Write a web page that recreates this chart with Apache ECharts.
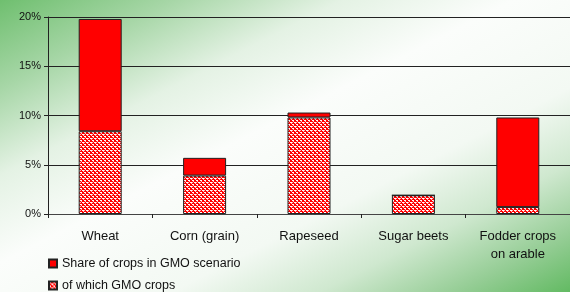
<!DOCTYPE html>
<html>
<head>
<meta charset="utf-8">
<script src="https://cdn.jsdelivr.net/npm/echarts@6/dist/echarts.min.js"></script>
<style>
  html, body { margin: 0; padding: 0; }
  #chart { width: 570px; height: 292px; }
</style>
</head>
<body>
<div id="chart"></div>
<script>
const categories = ["Wheat", "Corn (grain)", "Rapeseed", "Sugar beets", "Fodder crops\non arable"];
// total share of each crop in the GMO scenario (%)
const shareValues = [19.8, 5.7, 10.3, 1.9, 9.8];
// part of that share that is GMO crops (%)
const gmoValues = [8.4, 3.9, 9.8, 1.9, 0.7];
const yTicks = [0, 5, 10, 15, 20];

// dithered red/white hatch like the original
function makeHatch() {
  const c = document.createElement("canvas");
  c.width = 4;
  c.height = 4;
  const ctx = c.getContext("2d");
  ctx.fillStyle = "#ff0000";
  ctx.fillRect(0, 0, 4, 4);
  ctx.fillStyle = "#ffffff";
  ctx.fillRect(0, 0, 2, 1);
  ctx.fillRect(2, 2, 2, 1);
  ctx.fillStyle = "#ffb4b4";
  ctx.fillRect(1, 1, 1, 1);
  ctx.fillRect(3, 3, 1, 1);
  ctx.fillRect(0, 2, 1, 1);
  return c;
}

const chart = echarts.init(document.getElementById("chart"));
const hatch = { image: makeHatch(), repeat: "repeat" };
const font = "Liberation Sans, Arial, sans-serif";

const legendBase = {
  left: 48,
  padding: 0,
  itemWidth: 8,
  itemHeight: 8,
  itemGap: 0,
  icon: "rect",
  selectedMode: false,
  textStyle: { fontSize: 12.5, color: "#111" }
};

const option = {
  animation: false,
  backgroundColor: {
    type: "linear",
    global: true,
    x: 0, y: 0, x2: 237, y2: 463,
    colorStops: [
      { offset: 0, color: "#6fbf6f" },
      { offset: 0.15, color: "#a6d6a6" },
      { offset: 0.3, color: "#e4f2e4" },
      { offset: 0.45, color: "#fbfdfb" },
      { offset: 0.65, color: "#f3f9f3" },
      { offset: 0.78, color: "#cfe8cf" },
      { offset: 0.9, color: "#95cd95" },
      { offset: 1, color: "#62ba62" }
    ]
  },
  textStyle: { fontFamily: font },
  grid: { left: 48, top: 17, width: 530, height: 197 },
  legend: [
    Object.assign({}, legendBase, { top: 257, data: ["Share of crops in GMO scenario"] }),
    Object.assign({}, legendBase, { top: 279, data: ["of which GMO crops"] })
  ],
  xAxis: {
    type: "category",
    data: categories,
    axisLine: { lineStyle: { color: "#444", width: 1 } },
    axisTick: { show: true, length: 4, lineStyle: { color: "#222" } },
    axisLabel: { interval: 0, margin: 14, fontSize: 13, color: "#111", lineHeight: 17.5 }
  },
  yAxis: {
    type: "value",
    min: yTicks[0],
    max: yTicks[yTicks.length - 1],
    interval: 5,
    axisLine: { show: true, lineStyle: { color: "#222" } },
    axisTick: { show: true, length: 4, lineStyle: { color: "#222" } },
    axisLabel: { formatter: "{value}%", fontSize: 11, color: "#111", margin: 7 },
    splitLine: { lineStyle: { color: "#222", width: 1 } }
  },
  series: [
    {
      name: "of which GMO crops",
      type: "bar",
      stack: "crops",
      barWidth: 43,
      itemStyle: { color: hatch, borderColor: "#222", borderWidth: 1 },
      data: gmoValues
    },
    {
      name: "Share of crops in GMO scenario",
      type: "bar",
      stack: "crops",
      barWidth: 43,
      itemStyle: { color: "#ff0000", borderColor: "#222", borderWidth: 1 },
      data: shareValues.map((v, i) => +(v - gmoValues[i]).toFixed(2))
    }
  ]
};

chart.setOption(option);
window.addEventListener("resize", function () {
  chart.resize();
});
</script>
</body>
</html>
